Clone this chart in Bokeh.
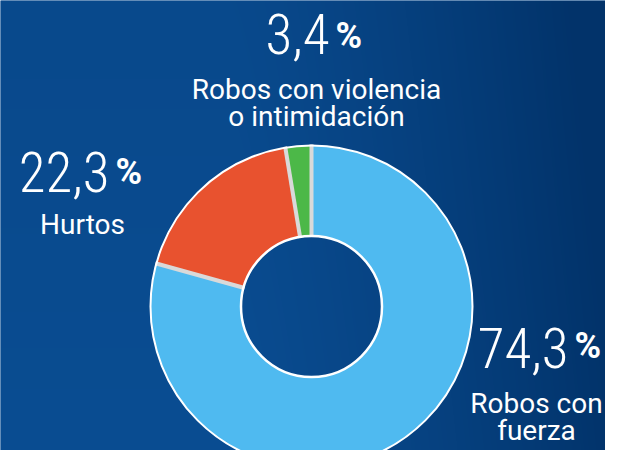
import numpy as np
from bokeh.plotting import figure
from bokeh.models import Range1d, ColumnDataSource
from bokeh.core.properties import value
from bokeh.embed import file_html
from bokeh.resources import INLINE

# ---------------- data ----------------
categories = ["Robos con fuerza", "Hurtos", "Robos con violencia o intimidación"]
percent_labels = [74.3, 22.3, 3.4]          # printed values
slice_shares = [79.3, 18.1, 2.6]            # slice sizes as drawn in the ring
label_lines = [["Robos con", "fuerza"], ["Hurtos"], ["Robos con violencia", "o intimidación"]]
slice_colors = ["#4FBAF0", "#E8522F", "#4CB848"]

# ---------------- layout (reference pixel coords, y downward) ----------------
REF_W, REF_H = 621, 466
W, H = 605, 450
CX, CY = 311, 306
R_OUT, R_IN = 161, 70.5
# (percent-sign left x, number baseline y, percent baseline y, label centre x, first label baseline y)
label_layout = [
    (574, 369, 360, 536, 414),
    (115, 193, 186, 82, 235),
    (335, 55, 50, 316, 100),
]
LINE_STEP = 27
NUM_GAP = 6
NUM_SIZE, PCT_SIZE, LBL_SIZE = 55, 36, 28
BASE_K = 0.39     # anchor correction (fraction of font size) for the renderer's baseline

def yd(y_ref):
    return REF_H - y_ref

def ybase(y_ref, size):
    return yd(y_ref - BASE_K * size)

p = figure(width=W, height=H, x_range=Range1d(0, W), y_range=Range1d(REF_H - H, REF_H),
           output_backend="svg", toolbar_location=None, min_border=0,
           x_axis_type=None, y_axis_type=None)
p.grid.visible = False
p.outline_line_color = None
p.background_fill_color = "#0A4D92"
p.border_fill_color = "#0A4D92"

# ---------------- background gradient ----------------
light = np.array([10, 77, 146], dtype=float)
dark = np.array([2, 51, 106], dtype=float)
cols = np.arange(W) + 0.5                     # ref x
rows = np.arange(H) + (REF_H - H) + 0.5       # data y
xx, yy = np.meshgrid(cols, rows)
yref = REF_H - yy
t = np.clip((xx - 230) / (REF_W - 230), 0, 1) ** 1.3 + 0.15 * (1 - yref / REF_H)
t = np.clip(t, 0, 1)
rgb = light[None, None, :] * (1 - t[..., None]) + dark[None, None, :] * t[..., None]
img = np.zeros((H, W), dtype=np.uint32)
view = img.view(dtype=np.uint8).reshape((H, W, 4))
view[..., 0] = rgb[..., 0].astype(np.uint8)
view[..., 1] = rgb[..., 1].astype(np.uint8)
view[..., 2] = rgb[..., 2].astype(np.uint8)
view[..., 3] = 255
p.image_rgba(image=[img], x=0, y=REF_H - H, dw=W, dh=H)

# ---------------- ring ----------------
fr = np.array(slice_shares, dtype=float)
fr = fr / fr.sum()
cum = np.concatenate([[0.0], np.cumsum(fr)])
start = np.pi / 2 - cum[:-1] * 2 * np.pi
end = np.pi / 2 - cum[1:] * 2 * np.pi
ring = ColumnDataSource(dict(start=start, end=end, color=slice_colors, cat=categories))
p.annular_wedge(x=CX, y=yd(CY), inner_radius=R_IN, outer_radius=R_OUT,
                start_angle="start", end_angle="end", direction="clock",
                fill_color="color", line_color=None, source=ring)

# separators
a = np.pi / 2 - cum[:-1] * 2 * np.pi
p.segment(x0=CX + (R_IN - 1) * np.cos(a), y0=yd(CY) + (R_IN - 1) * np.sin(a),
          x1=CX + (R_OUT + 1) * np.cos(a), y1=yd(CY) + (R_OUT + 1) * np.sin(a),
          line_color="#D9D9D9", line_width=4)

p.circle(x=[CX], y=[yd(CY)], radius=R_OUT, fill_color=None, line_color="white", line_width=2)
p.circle(x=[CX], y=[yd(CY)], radius=R_IN, fill_color=None, line_color="white", line_width=2.5)

# ---------------- texts ----------------
num_txt = [f"{v:.1f}".replace(".", ",") for v in percent_labels]
num_src = ColumnDataSource(dict(
    x=[l[0] - NUM_GAP for l in label_layout],
    y=[ybase(l[1], NUM_SIZE) for l in label_layout],
    text=num_txt))
p.text(x="x", y="y", text="text", source=num_src, text_color="white",
       text_font=value("Roboto Condensed Thin, Roboto Condensed ExtraLight, Roboto Condensed Light, Roboto Thin"),
       text_font_size=f"{NUM_SIZE}px",
       text_align="right", text_baseline="alphabetic")

pct_src = ColumnDataSource(dict(
    x=[l[0] for l in label_layout],
    y=[ybase(l[2], PCT_SIZE) for l in label_layout],
    text=["%"] * len(label_layout)))
p.text(x="x", y="y", text="text", source=pct_src, text_color="white",
       text_font=value("Roboto"), text_font_style="bold", text_font_size=f"{PCT_SIZE}px",
       text_align="left", text_baseline="alphabetic")

lx, ly, lt = [], [], []
for lines, lay in zip(label_lines, label_layout):
    for k, line in enumerate(lines):
        lx.append(lay[3])
        ly.append(ybase(lay[4] + k * LINE_STEP, LBL_SIZE))
        lt.append(line)
p.text(x=lx, y=ly, text=lt, text_color="white",
       text_font=value("Roboto"), text_font_size=f"{LBL_SIZE}px",
       text_align="center", text_baseline="alphabetic")

open("out.html", "w").write(file_html(p, INLINE, "chart"))
